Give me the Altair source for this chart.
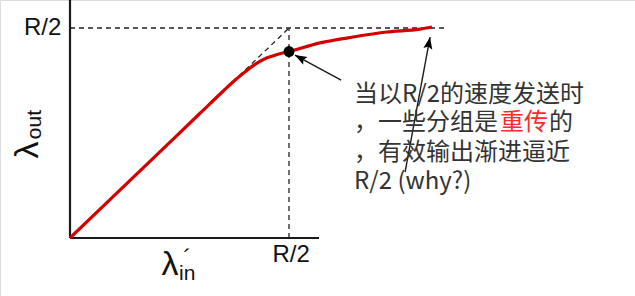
import altair as alt
import pandas as pd

# Units: R/2 = 1 on both axes
curve_x = [0.0, 0.365, 0.594, 0.70, 0.753, 0.80, 0.85, 0.90, 0.95, 1.0, 1.142, 1.292, 1.447, 1.598, 1.653]
curve_y = [0.0, 0.365, 0.594, 0.70, 0.751, 0.792, 0.830, 0.858, 0.875, 0.888, 0.929, 0.957, 0.981, 0.995, 1.005]

tick_labels = ["R/2"]
tick_value = 1.0
dot_x, dot_y = 1.0, 0.888

text_lines = ["当以R/2的速度发送时", "，一些分组是", "重传", "的", "，有效输出渐进逼近", "R/2 (why?)"]
text_x = [1.297, 1.297, 1.963, 2.187, 1.297, 1.297]
text_y = [0.681, 0.548, 0.548, 0.548, 0.405, 0.267]
text_color = ["#333333", "#333333", "#ff2a2a", "#333333", "#333333", "#333333"]

XD = [-70 / 219, 565 / 219]
YD = [-58 / 210, 238 / 210]
xs = alt.Scale(domain=XD, nice=False, zero=False)
ys = alt.Scale(domain=YD, nice=False, zero=False)

def X(f="x"):
    return alt.X(f"{f}:Q", scale=xs, axis=None)

def Y(f="y"):
    return alt.Y(f"{f}:Q", scale=ys, axis=None)

curve = pd.DataFrame({"x": curve_x, "y": curve_y})

axes = pd.DataFrame({"x": [0, 0], "y": [0, 0], "x2": [0, 1.137], "y2": [YD[1], 0]})
axis_rules = alt.Chart(axes).mark_rule(color="#1a1a1a", strokeWidth=2.2).encode(
    x=X(), y=Y(), x2="x2:Q", y2="y2:Q")

dashes = pd.DataFrame({
    "x": [0, 0, tick_value], "y": [0, tick_value, 0],
    "x2": [tick_value, 1.712, tick_value], "y2": [tick_value, tick_value, tick_value]})
dash_rules = alt.Chart(dashes).mark_rule(color="#222222", strokeWidth=1.3, strokeDash=[5, 4]).encode(
    x=X(), y=Y(), x2="x2:Q", y2="y2:Q")

red = alt.Chart(curve).mark_line(color="#d40000", strokeWidth=3.2, interpolate="monotone").encode(
    x=X(), y=Y())

dot = alt.Chart(pd.DataFrame({"x": [dot_x], "y": [dot_y]})).mark_point(
    filled=True, color="#000000", size=120, opacity=1).encode(x=X(), y=Y())

arrows = pd.DataFrame({"x": [1.238, 1.530], "y": [0.752, 0.314],
                       "x2": [1.027, 1.644], "y2": [0.871, 0.957], "ang": [299, 10.5]})
arrow_lines = alt.Chart(arrows).mark_rule(color="#1a1a1a", strokeWidth=1.4).encode(
    x=X(), y=Y(), x2="x2:Q", y2="y2:Q")
heads = alt.Chart(arrows).mark_point(
    shape="M0,0L-0.75,2L0,1.6L0.75,2Z", filled=True, color="#000000", size=144, opacity=1
).encode(x=X("x2"), y=Y("y2"), angle=alt.Angle("ang:Q", scale=None))

ylab = alt.Chart(pd.DataFrame({"x": [-0.04], "y": [tick_value], "t": tick_labels})).mark_text(
    font="Liberation Sans", fontSize=24, align="right", baseline="middle", color="#111111"
).encode(x=X(), y=Y(), text="t:N")
xlab = alt.Chart(pd.DataFrame({"x": [tick_value + 0.01], "y": [-0.08], "t": tick_labels})).mark_text(
    font="Liberation Sans", fontSize=24, align="center", baseline="middle", color="#111111"
).encode(x=X(), y=Y(), text="t:N")

ylabel = pd.DataFrame({"x": [-0.192, -0.162], "y": [0.419, 0.54], "t": ["λ", "out"],
                       "fs": [34, 21], "ang": [270, 270]})
lam_out = alt.Chart(ylabel).mark_text(
    font="Liberation Sans", align="center", baseline="middle", color="#111111", angle=270
).encode(x=X(), y=Y(), text="t:N",
         size=alt.Size("fs:Q", scale=None),
         angle=alt.Angle("ang:Q", scale=None))

lam_in = alt.Chart(pd.DataFrame({"x": [0.457], "y": [-0.128], "t": ["λ"]})).mark_text(
    font="Liberation Sans", fontSize=34, align="center", baseline="middle", color="#111111"
).encode(x=X(), y=Y(), text="t:N")
lam_in_sub = alt.Chart(pd.DataFrame({"x": [0.535], "y": [-0.172], "t": ["in"]})).mark_text(
    font="Liberation Sans", fontSize=21, align="center", baseline="middle", color="#111111"
).encode(x=X(), y=Y(), text="t:N")
lam_prime = alt.Chart(pd.DataFrame({"x": [0.535], "y": [-0.10], "t": ["´"]})).mark_text(
    font="Liberation Sans", fontSize=24, align="center", baseline="middle", color="#111111"
).encode(x=X(), y=Y(), text="t:N")

notes = pd.DataFrame({"x": text_x, "y": text_y, "t": text_lines, "c": text_color})
note_text = alt.Chart(notes).mark_text(
    font="Noto Sans CJK SC", fontSize=24, align="left", baseline="middle"
).encode(x=X(), y=Y(), text="t:N", color=alt.Color("c:N", scale=None))

chart = alt.layer(
    dash_rules, axis_rules, red, dot, arrow_lines, heads,
    ylab, xlab, lam_out, lam_in, lam_in_sub, lam_prime, note_text
).properties(
    width=635, height=296, padding=0, autosize=alt.AutoSizeParams(type="none")
).configure_view(stroke=None).configure(background="white")

chart.save("out.html", embed_options={"renderer": "svg", "actions": False})
